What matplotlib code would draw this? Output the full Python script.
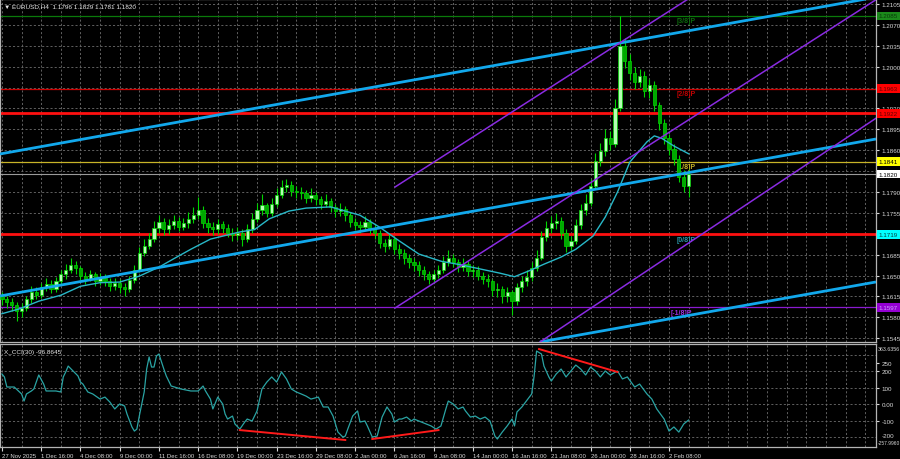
import matplotlib
matplotlib.use('Agg')
import matplotlib.pyplot as plt
import matplotlib.transforms as mtrans
import numpy as np

plt.rcParams['font.family'] = ['Liberation Sans', 'DejaVu Sans']

# EURUSD H4, one candle per two H4 bars (bar index = H4 bars since 27 Nov 00:00)
first_open = 1.1615
closes = [
    1.1610, 1.1605, 1.1600, 1.1590, 1.1596, 1.1610, 1.1622, 1.1618, 1.1630, 1.1636,
    1.1628, 1.1640, 1.1652, 1.1660, 1.1668, 1.1662, 1.1650, 1.1645, 1.1652, 1.1640,
    1.1646, 1.1640, 1.1632, 1.1638, 1.1630, 1.1628, 1.1642, 1.1660, 1.1688, 1.1700,
    1.1712, 1.1730, 1.1740, 1.1728, 1.1735, 1.1742, 1.1732, 1.1738, 1.1745, 1.1752,
    1.1760, 1.1738, 1.1732, 1.1728, 1.1736, 1.1730, 1.1722, 1.1718, 1.1722, 1.1712,
    1.1728, 1.1745, 1.1760, 1.1768, 1.1755, 1.1770, 1.1785, 1.1798, 1.1802, 1.1792,
    1.1790, 1.1788, 1.1780, 1.1785, 1.1778, 1.1770, 1.1775, 1.1765, 1.1758, 1.1762,
    1.1752, 1.1740, 1.1735, 1.1732, 1.1740, 1.1728, 1.1722, 1.1705, 1.1700, 1.1712,
    1.1695, 1.1688, 1.1680, 1.1672, 1.1668, 1.1660, 1.1652, 1.1645, 1.1652, 1.1660,
    1.1672, 1.1680, 1.1672, 1.1665, 1.1670, 1.1658, 1.1660, 1.1650, 1.1645, 1.1640,
    1.1625, 1.1628, 1.1615, 1.1622, 1.1608, 1.1630, 1.1640, 1.1648, 1.1662, 1.1680,
    1.1715, 1.1730, 1.1738, 1.1742, 1.1722, 1.1700, 1.1708, 1.1735, 1.1760, 1.1772,
    1.1800, 1.1842, 1.1858, 1.1880, 1.1870, 1.1930, 1.2035, 1.2010, 1.1990, 1.1975,
    1.1985, 1.1960, 1.1970, 1.1935, 1.1905, 1.1880, 1.1862, 1.1845, 1.1815, 1.1800,
    1.1820]
highs = [
    1.1622, 1.1616, 1.1612, 1.1606, 1.1604, 1.1616, 1.1632, 1.1630, 1.1638, 1.1646,
    1.1642, 1.1648, 1.1660, 1.1670, 1.1680, 1.1674, 1.1666, 1.1656, 1.1660, 1.1656,
    1.1654, 1.1652, 1.1646, 1.1646, 1.1644, 1.1638, 1.1650, 1.1668, 1.1698, 1.1712,
    1.1722, 1.1742, 1.1752, 1.1746, 1.1744, 1.1752, 1.1748, 1.1746, 1.1756, 1.1764,
    1.1782, 1.1766, 1.1746, 1.1740, 1.1744, 1.1742, 1.1736, 1.1730, 1.1732, 1.1728,
    1.1736, 1.1754, 1.1772, 1.1786, 1.1772, 1.1780, 1.1796, 1.1810, 1.1812, 1.1808,
    1.1800, 1.1798, 1.1794, 1.1796, 1.1790, 1.1784, 1.1786, 1.1780, 1.1770, 1.1772,
    1.1766, 1.1756, 1.1746, 1.1742, 1.1750, 1.1744, 1.1734, 1.1726, 1.1712, 1.1720,
    1.1716, 1.1702, 1.1694, 1.1686, 1.1680, 1.1674, 1.1666, 1.1658, 1.1660, 1.1668,
    1.1682, 1.1692, 1.1686, 1.1678, 1.1680, 1.1674, 1.1668, 1.1666, 1.1656, 1.1652,
    1.1645, 1.1638, 1.1632, 1.1630, 1.1626, 1.1638, 1.1650, 1.1660, 1.1672, 1.1692,
    1.1724, 1.1742, 1.1750, 1.1754, 1.1748, 1.1728, 1.1716, 1.1744, 1.1770, 1.1786,
    1.1812, 1.1856, 1.1872, 1.1896, 1.1892, 1.1946, 1.2085, 1.2048, 1.2022, 1.2000,
    1.1996, 1.1992, 1.1980, 1.1976, 1.1940, 1.1912, 1.1888, 1.1870, 1.1852, 1.1826,
    1.1829]
lows = [
    1.1600, 1.1595, 1.1590, 1.1574, 1.1580, 1.1590, 1.1604, 1.1610, 1.1612, 1.1624,
    1.1620, 1.1622, 1.1634, 1.1645, 1.1655, 1.1652, 1.1642, 1.1636, 1.1640, 1.1632,
    1.1634, 1.1632, 1.1624, 1.1626, 1.1620, 1.1616, 1.1622, 1.1638, 1.1656, 1.1682,
    1.1694, 1.1706, 1.1722, 1.1718, 1.1720, 1.1728, 1.1724, 1.1726, 1.1730, 1.1738,
    1.1745, 1.1730, 1.1722, 1.1718, 1.1720, 1.1722, 1.1714, 1.1708, 1.1710, 1.1700,
    1.1706, 1.1722, 1.1740, 1.1752, 1.1748, 1.1750, 1.1764, 1.1780, 1.1790, 1.1784,
    1.1780, 1.1778, 1.1772, 1.1774, 1.1768, 1.1762, 1.1764, 1.1756, 1.1748, 1.1750,
    1.1742, 1.1732, 1.1726, 1.1722, 1.1726, 1.1720, 1.1712, 1.1696, 1.1690, 1.1694,
    1.1686, 1.1678, 1.1670, 1.1662, 1.1658, 1.1650, 1.1642, 1.1636, 1.1638, 1.1646,
    1.1654, 1.1666, 1.1664, 1.1656, 1.1658, 1.1650, 1.1648, 1.1642, 1.1636, 1.1630,
    1.1616, 1.1614, 1.1604, 1.1606, 1.1584, 1.1600, 1.1622, 1.1632, 1.1640, 1.1658,
    1.1676, 1.1708, 1.1722, 1.1728, 1.1712, 1.1690, 1.1692, 1.1702, 1.1728, 1.1752,
    1.1766, 1.1796, 1.1834, 1.1850, 1.1860, 1.1866, 1.1926, 1.1998, 1.1978, 1.1962,
    1.1966, 1.1950, 1.1948, 1.1926, 1.1894, 1.1870, 1.1852, 1.1836, 1.1806, 1.1790,
    1.1781]

# moving average
ma_bar = [0, 7, 15, 24, 32, 40, 48, 56, 64, 70, 77, 85, 97, 103, 109, 117, 124, 134, 140, 146,
          154, 162, 170, 179, 187, 195, 203, 209, 215, 221, 228, 234, 241, 246, 251, 256, 263,
          266, 269, 274, 280]
ma_val = [1.1586, 1.1594, 1.1607, 1.1617, 1.1632, 1.1638, 1.1639, 1.1649, 1.1664, 1.1678,
          1.1694, 1.1711, 1.1723, 1.1727, 1.1745, 1.1758, 1.1763, 1.1765, 1.1758, 1.1751,
          1.1731, 1.1708, 1.1686, 1.1674, 1.1668, 1.1661, 1.1654, 1.1648, 1.1658, 1.1669,
          1.1681, 1.1694, 1.1716, 1.1748, 1.1790, 1.1840, 1.1874, 1.1884, 1.1880, 1.1867,
          1.1854]

# CCI(30)
cci_bar = [0, 1, 2, 5, 8, 9, 10, 12, 13, 15,
           17, 18, 22, 24, 25, 26, 27, 29, 31, 32,
           33, 35, 37, 40, 42, 44, 46, 48, 50, 51,
           53, 54, 55, 56, 58, 59, 60, 61, 62, 63,
           64, 66, 67, 69, 73, 77, 80, 82, 83, 85,
           86, 88, 90, 91, 92, 94, 95, 97, 99, 100,
           102, 104, 106, 108, 110, 112, 114, 116, 118, 120,
           122, 124, 126, 129, 131, 133, 135, 137, 139, 140,
           141, 143, 145, 146, 148, 149, 151, 153, 155, 157,
           159, 160, 162, 163, 165, 167, 168, 170, 173, 175,
           177, 179, 181, 182, 184, 186, 188, 189, 191, 193,
           195, 197, 199, 201, 202, 204, 206, 208, 209, 210,
           212, 215, 216, 217, 218, 220, 221, 223, 224, 226,
           228, 230, 232, 234, 236, 238, 240, 242, 244, 246,
           248, 251, 253, 255, 258, 260, 263, 265, 267, 270,
           272, 274, 276, 278, 280]
cci_val = [182, 164, 103, 103, 61, 18, 61, 79, 91, 176,
           121, 79, 79, 73, 164, 194, 230, 200, 170, 133,
           121, 73, 61, 30, 42, 12, -30, 0, -12, -61,
           -139, -164, -152, -73, 73, 212, 285, 224, 224, 291,
           303, 212, 170, 109, 91, 79, 79, 109, 79, 30,
           -30, 42, 0, -61, -91, -73, -121, -152, -109, -91,
           -103, -42, 91, 133, 164, 133, 194, 152, 91, 73,
           61, 48, 30, 42, -18, -18, -73, -170, -200, -194,
           -152, -73, -42, -109, -103, -133, -200, -194, -79, -18,
           -61, -109, -91, -91, -79, -103, -91, -103, -121, -133,
           -152, -133, -30, 18, 0, -30, -18, -42, -79, -73,
           -91, -79, -103, -194, -212, -170, -133, -91, -133, -48,
           -18, 42, 61, 170, 321, 303, 230, 164, 139, 182,
           212, 164, 200, 236, 212, 176, 224, 200, 164, 200,
           176, 200, 152, 164, 103, 121, 61, 30, -30, -91,
           -164, -139, -170, -121, -97]

# divergence lines on CCI (bar, value pairs)
div_bars = [(97, 140), (151, 178), (219, 251)]
div_vals = [(-158, -218), (-212, -158), (333, 194)]

# trend channel (cyan) and pitchfork (purple) endpoints
cyan_bars = [(-0.8, 356.4), (-0.8, 356.4), (219.4, 356.4)]
cyan_px = [(1.18537, 1.21164), (1.16157, 1.18788), (1.15386, 1.16392)]
purple_bars = [(160.3, 279.8), (160.3, 356.4), (219.4, 356.4)]
purple_px = [(1.17984, 1.21134), (1.15956, 1.21122), (1.15386, 1.19136)]

# horizontal levels
murray_levels = [1.2085, 1.1963, 1.1841, 1.1719, 1.1597]
murray_names = ['[3/8]P', '[2/8]P', '[1/8]P', '[0/8]P', '[-1/8]P']
support_level = 1.1922
bid = 1.1820

date_labels = ['27 Nov 2025', '1 Dec 16:00', '4 Dec 08:00', '9 Dec 00:00', '11 Dec 16:00',
               '16 Dec 08:00', '19 Dec 00:00', '23 Dec 16:00', '29 Dec 08:00', '2 Jan 00:00',
               '6 Jan 16:00', '9 Jan 08:00', '14 Jan 00:00', '16 Jan 16:00', '21 Jan 08:00',
               '26 Jan 00:00', '28 Jan 16:00', '2 Feb 08:00']

fig = plt.figure(figsize=(9, 4.6), dpi=100, facecolor='black')
ax = fig.add_axes([0.0, 1 - 343 / 460, 876 / 900, 343 / 460])
cax = fig.add_axes([0.0, 1 - 447.6 / 460, 876 / 900, 102.6 / 460])

xmin, xmax = -0.8, 356.4
for a in (ax, cax):
    a.set_facecolor('black')
    a.set_xlim(xmin, xmax)
    for s in a.spines.values():
        s.set_color('#b4b4b4')
        s.set_linewidth(0.9)
ax.set_ylim(1.15386, 1.21134)
cax.set_ylim(-257.996, 363.6356)

grid_kw = dict(color='#6e6e6e', lw=0.6, ls=(0, (2.5, 2.5)), zorder=0)
price_ticks = [round(1.1545 + 0.0035 * n, 4) for n in range(17)]
for b in range(0, 357, 8):
    ax.axvline(b, **grid_kw)
    cax.axvline(b, **grid_kw)
for p in price_ticks:
    ax.axhline(p, **grid_kw)
for v in [300, 200, 100, 0, -100, -200]:
    cax.axhline(v, **grid_kw)

# horizontal levels
ax.axhline(murray_levels[0], color='#0a7a0a', lw=0.9, zorder=2)
ax.axhline(murray_levels[1], color='#d00000', lw=0.9, zorder=2)
ax.axhline(support_level, color='#ff1010', lw=2.0, zorder=2)
ax.axhline(murray_levels[2], color='#c8b428', lw=0.9, zorder=2)
ax.axhline(bid, color='#9a9a9a', lw=0.8, zorder=2)
ax.axhline(murray_levels[3], color='#ff1010', lw=2.0, zorder=2)
ax.axhline(murray_levels[4], color='#8a1ad0', lw=0.9, zorder=2)

name_colors = ['#0c6a0c', '#c00000', '#c8b428', '#2a96a8', '#9a30e0']
name_bars = [275, 275, 275, 275, 272.5]
for lv, nm, col, nb in zip(murray_levels, murray_names, name_colors, name_bars):
    ax.annotate(nm, (nb, lv), xytext=(0, -3.5), textcoords='offset points',
                fontsize=5, color=col, va='center', ha='left', fontweight='bold', zorder=3)

# candles
bars = np.arange(len(closes)) * 2
opens = [first_open] + closes[:-1]
o = np.array(opens)
c = np.array(closes)
ax.vlines(bars, lows, highs, color='#00d400', lw=0.8, zorder=4)
bottom = np.minimum(o, c)
height = np.maximum(np.abs(c - o), 0.00008)
up = c >= o
ax.bar(bars[up], height[up], bottom=bottom[up], width=1.3, color='#b4ffb4',
       edgecolor='#00d400', lw=0.5, zorder=5)
ax.bar(bars[~up], height[~up], bottom=bottom[~up], width=1.3, color='#00a800',
       edgecolor='#00d400', lw=0.5, zorder=5)

# moving average
ax.plot(ma_bar, ma_val, color='#28b8c8', lw=1.0, zorder=6)

# channel lines
for bx, py in zip(cyan_bars, cyan_px):
    ax.plot(bx, py, color='#12a8ec', lw=2.0, zorder=7, solid_capstyle='butt')
for bx, py in zip(purple_bars, purple_px):
    ax.plot(bx, py, color='#8a2be2', lw=1.1, zorder=7)

# right price scale (labels hidden under the coloured boxes are left out)
covered = {1.1965, 1.1720, 1.1825}
ax.yaxis.tick_right()
ax.set_yticks(price_ticks)
ax.set_yticklabels(['' if p in covered else '%.4f' % p for p in price_ticks])
ax.tick_params(axis='y', length=2, pad=2, labelsize=4.5, colors='#d8d8d8')
ax.set_xticks([])

blend = mtrans.blended_transform_factory(ax.transAxes, ax.transData)
boxes = [(murray_levels[0], '#1b8a1b', '#0a3a0a'),
         (murray_levels[1], '#ff0000', '#600000'),
         (support_level, '#ff0000', '#600000'),
         (murray_levels[2], '#ffff00', '#000000'),
         (bid, '#ffffff', '#000000'),
         (murray_levels[3], '#00ffff', '#004040'),
         (murray_levels[4], '#9400d3', '#d0a0ff')]
for lv, bg, fg in boxes:
    ax.text(1.003, lv, '%.4f' % lv, transform=blend, fontsize=4.5, color=fg,
            va='center', ha='left', clip_on=False, zorder=10,
            bbox=dict(boxstyle='square,pad=0.3', fc=bg, ec='none'))

ax.text(0.005, 0.988, '\u25bc EURUSD,H4  1.1796 1.1829 1.1781 1.1820', transform=ax.transAxes,
        va='top', ha='left', fontsize=4.6, color='#e8e8e8')

# CCI panel
cax.plot(cci_bar, cci_val, color='#2aa4a4', lw=0.9, zorder=4)
for bx, vy in zip(div_bars, div_vals):
    cax.plot(bx, vy, color='#ff1a1a', lw=1.4, zorder=5)
cax.text(0.005, 0.95, 'X_CCI(30) -96.8645', transform=cax.transAxes,
         va='top', ha='left', fontsize=4.6, color='#e8e8e8')

cax.yaxis.tick_right()
cci_ticks = [250, 200, 100, 0, -100]
cax.set_yticks(cci_ticks)
cax.set_yticklabels(['250', '200', '100', '0.00', '-100'])
cax.tick_params(axis='y', length=2, pad=2, labelsize=4.5, colors='#d8d8d8')
cblend = mtrans.blended_transform_factory(cax.transAxes, cax.transData)
cax.text(1.002, 338, '363.6356', transform=cblend, fontsize=3.8, color='#d8d8d8',
         va='center', ha='left', clip_on=False)
cax.text(1.006, -190, '-200', transform=cblend, fontsize=4.5, color='#d8d8d8',
         va='center', ha='left', clip_on=False)
cax.text(1.002, -232, '-257.9960', transform=cblend, fontsize=3.5, color='#d8d8d8',
         va='center', ha='left', clip_on=False)

date_bars = list(range(0, 273, 16))
cax.set_xticks(date_bars)
cax.set_xticklabels(date_labels)
cax.tick_params(axis='x', length=3, pad=1.5, labelsize=4.3, colors='#d8d8d8')
for lbl in cax.get_xticklabels():
    lbl.set_ha('left')

fig.savefig('out.png', dpi=100, facecolor='black')
